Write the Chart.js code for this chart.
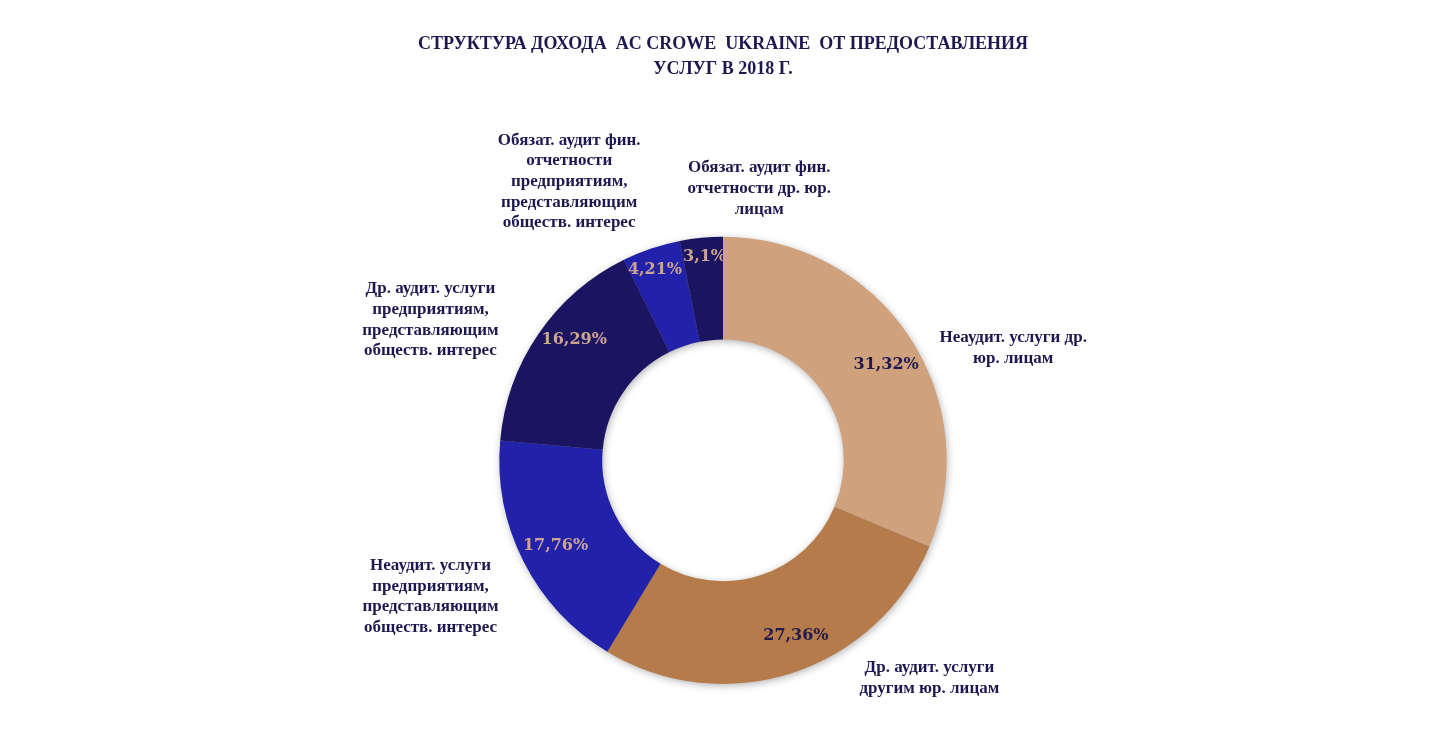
<!DOCTYPE html>
<html lang="ru">
<head>
    <meta charset="UTF-8">
    <title>Структура дохода AC Crowe Ukraine</title>
    <script src="https://cdn.jsdelivr.net/npm/chart.js"></script>
    <style>
        html, body { margin: 0; padding: 0; background: #fff; }
        .chart-wrap { width: 1442px; height: 734px; }
    </style>
</head>
<body>
    <div class="chart-wrap">
        <canvas id="incomeChart"></canvas>
    </div>

    <script>
        // Data
        const categories = [
            ['Неаудит. услуги др.', 'юр. лицам'],
            ['Др. аудит. услуги', 'другим юр. лицам'],
            ['Неаудит. услуги', 'предприятиям,', 'представляющим', 'обществ. интерес'],
            ['Др. аудит. услуги', 'предприятиям,', 'представляющим', 'обществ. интерес'],
            ['Обязат. аудит фин.', 'отчетности', 'предприятиям,', 'представляющим', 'обществ. интерес'],
            ['Обязат. аудит фин.', 'отчетности др. юр.', 'лицам']
        ];
        const shares = [31.32, 27.36, 17.76, 16.29, 4.21, 3.1];
        const shareLabels = ['31,32%', '27,36%', '17,76%', '16,29%', '4,21%', '3,1%'];
        const titleLines = ['СТРУКТУРА ДОХОДА  AC CROWE  UKRAINE  ОТ ПРЕДОСТАВЛЕНИЯ', 'УСЛУГ В 2018 Г.'];

        const sliceColors = ['#CFA17D', '#B57B4B', '#2121A9', '#1B1461', '#2121A9', '#1B1461'];
        const pctColors = ['#221A4E', '#221A4E', '#CDA492', '#CDA492', '#CDA492', '#CDA492'];
        const textColor = '#1E1850';

        // label nudges (pixels) from the slice's outer-edge midpoint / percent anchor
        const outerNudge = [[104, 12], [137, 5], [-93, 35], [-108, -14], [-82, -67], [58, -49]];
        const pctNudge = [[5, 10], [14, -5], [2, 0], [8, -13], [-7, -11], [0, -14]];

        // soft shadow ring drawn under the slices
        const ringShadow = {
            id: 'ringShadow',
            beforeDatasetsDraw(chart) {
                const arc = chart.getDatasetMeta(0).data[0];
                if (!arc) return;
                const { x, y, outerRadius, innerRadius } = arc.getProps(['x', 'y', 'outerRadius', 'innerRadius'], true);
                const ctx = chart.ctx;
                ctx.save();
                ctx.shadowColor = 'rgba(0,0,0,0.35)';
                ctx.shadowBlur = 9;
                ctx.shadowOffsetX = 1;
                ctx.shadowOffsetY = 2;
                ctx.fillStyle = '#888';
                ctx.beginPath();
                ctx.arc(x, y, outerRadius - 1, 0, Math.PI * 2);
                ctx.arc(x, y, innerRadius + 1, 0, Math.PI * 2, true);
                ctx.fill();
                ctx.restore();
            },
            afterDatasetsDraw(chart) {
                // faint glow on the hole edge
                const arc = chart.getDatasetMeta(0).data[0];
                if (!arc) return;
                const { x, y, innerRadius } = arc.getProps(['x', 'y', 'innerRadius'], true);
                const ctx = chart.ctx;
                ctx.save();
                ctx.beginPath();
                ctx.arc(x, y, innerRadius, 0, Math.PI * 2);
                ctx.clip();
                ctx.shadowColor = 'rgba(0,0,0,0.3)';
                ctx.shadowBlur = 6;
                ctx.strokeStyle = 'rgba(0,0,0,0.25)';
                ctx.lineWidth = 2;
                ctx.beginPath();
                ctx.arc(x, y, innerRadius + 2, 0, Math.PI * 2);
                ctx.stroke();
                ctx.restore();
            }
        };

        // percent labels inside slices and category labels outside
        const sliceLabels = {
            id: 'sliceLabels',
            afterDatasetsDraw(chart) {
                const ctx = chart.ctx;
                const meta = chart.getDatasetMeta(0);
                ctx.save();
                ctx.textAlign = 'center';
                ctx.textBaseline = 'middle';
                meta.data.forEach((arc, i) => {
                    const { x, y, startAngle, endAngle, outerRadius } =
                        arc.getProps(['x', 'y', 'startAngle', 'endAngle', 'outerRadius'], true);
                    const mid = (startAngle + endAngle) / 2;
                    const cx = Math.cos(mid), cy = Math.sin(mid);

                    // percent
                    const pr = 190;
                    ctx.font = 'bold 16px "DejaVu Serif", serif';
                    ctx.fillStyle = pctColors[i];
                    ctx.fillText(shareLabels[i], x + cx * pr + pctNudge[i][0], y + cy * pr + pctNudge[i][1]);

                    // category
                    const lx = x + cx * outerRadius + outerNudge[i][0];
                    const ly = y + cy * outerRadius + outerNudge[i][1];
                    const lines = categories[i];
                    const lh = 20.7;
                    ctx.font = 'bold 17px "Liberation Serif", serif';
                    ctx.fillStyle = textColor;
                    lines.forEach((ln, k) => {
                        ctx.fillText(ln, lx, ly + (k - (lines.length - 1) / 2) * lh);
                    });
                });
                ctx.restore();
            }
        };

        const ctx = document.getElementById('incomeChart').getContext('2d');
        const incomeChart = new Chart(ctx, {
            type: 'doughnut',
            data: {
                labels: categories.map(c => c.join(' ')),
                datasets: [{
                    data: shares,
                    backgroundColor: sliceColors,
                    borderWidth: 0
                }]
            },
            options: {
                responsive: true,
                maintainAspectRatio: false,
                animation: false,
                cutout: '54%',
                layout: {
                    padding: { top: 20, bottom: 50, left: 400, right: 396 }
                },
                plugins: {
                    legend: { display: false },
                    tooltip: { enabled: false },
                    title: {
                        display: true,
                        text: titleLines,
                        color: textColor,
                        font: { family: '"Liberation Serif", serif', size: 18, weight: 'bold', lineHeight: 1.38 },
                        padding: { top: 12, bottom: 155 }
                    }
                }
            },
            plugins: [ringShadow, sliceLabels]
        });
    </script>
</body>
</html>
